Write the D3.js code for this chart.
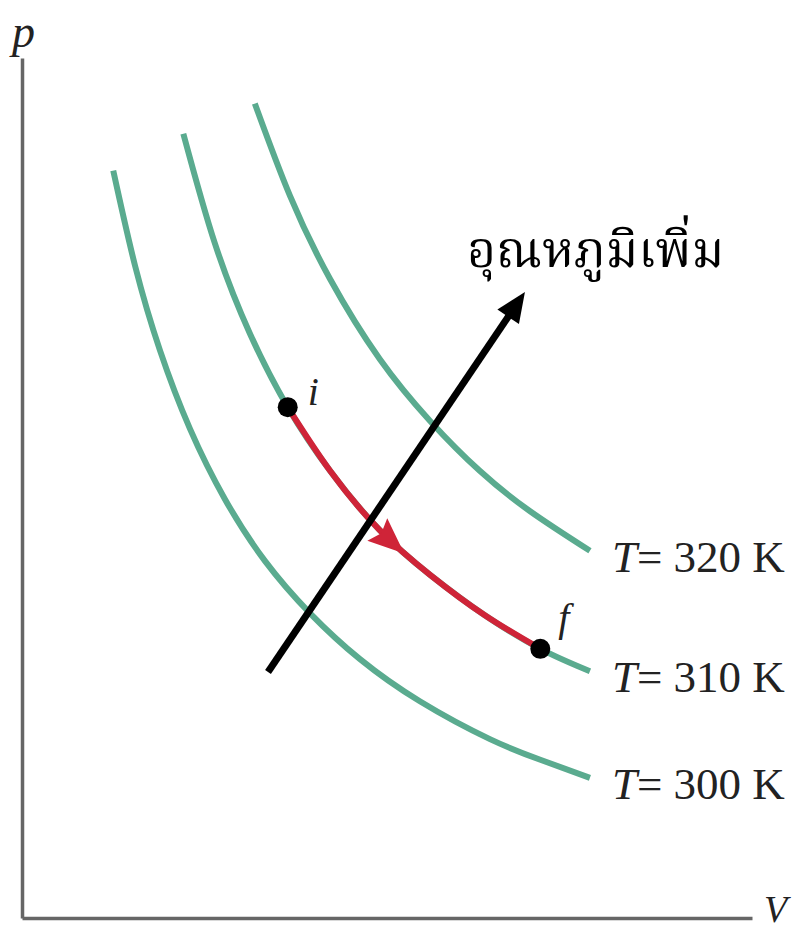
<!DOCTYPE html>
<html>
<head>
<meta charset="utf-8">
<script src="https://cdn.jsdelivr.net/npm/d3@7"></script>
<style>
  html, body { margin: 0; padding: 0; background: #fff; }
  svg { display: block; }
</style>
</head>
<body>
<svg id="chart" width="792" height="931"></svg>
<script>
// Isotherms on a p–V diagram (schematic units)
const temps = [300, 310, 320];
const isoV = [
  [1.25, 1.55, 1.89, 2.30, 2.78, 3.33, 3.95, 4.63, 5.45, 6.41, 7.10, 7.78],
  [2.21, 2.64, 3.12, 3.64, 4.22, 4.90, 5.59, 6.34, 7.10, 7.78],
  [3.19, 3.67, 4.22, 4.90, 5.59, 6.27, 6.96, 7.78]
];
const isoP = [
  [8.69, 7.58, 6.60, 5.69, 4.87, 4.15, 3.54, 3.01, 2.52, 2.08, 1.84, 1.63],
  [9.12, 7.85, 6.80, 5.94, 5.20, 4.51, 3.99, 3.52, 3.13, 2.87],
  [9.47, 8.40, 7.43, 6.50, 5.78, 5.20, 4.73, 4.27]
];
// Process i -> f runs along the 310 K isotherm (index range on that curve)
const processCurve = 1;
const processFrom = 3, processTo = 8;
const stateLabels = ["i", "f"];
// "Temperature increases" direction arrow, tail -> tip
const arrowV = [3.37, 6.89];
const arrowP = [2.86, 7.28];
const arrowText = "อุณหภูมิเพิ่ม";
const axisLabels = ["p", "V"];

const svg = d3.select("#chart");
const x = d3.scaleLinear().domain([0, 10]).range([22, 752]);
const y = d3.scaleLinear().domain([0, 10]).range([918, 58]);

const green = "#5aab8f", red = "#cf2438", axisGray = "#666";
const serif = "'Liberation Serif', 'DejaVu Serif', serif";

// axes: plain lines, no ticks
svg.append("g").attr("transform", `translate(0,${y(0)})`)
  .call(d3.axisBottom(x).tickValues([]).tickSizeOuter(0))
  .call(g => g.select(".domain").attr("stroke", axisGray).attr("stroke-width", 3.5));
svg.append("g").attr("transform", `translate(${x(0)},0)`)
  .call(d3.axisLeft(y).tickValues([]).tickSizeOuter(0))
  .call(g => g.select(".domain").attr("stroke", axisGray).attr("stroke-width", 3.5));

svg.append("text").attr("x", 12).attr("y", 47)
  .attr("font-family", serif).attr("font-style", "italic").attr("font-size", 46)
  .attr("fill", "#222").text(axisLabels[0]);
svg.append("text").attr("x", 764).attr("y", 922)
  .attr("font-family", serif).attr("font-style", "italic").attr("font-size", 38)
  .attr("fill", "#222").text(axisLabels[1]);

const line = d3.line().x(d => x(d[0])).y(d => y(d[1])).curve(d3.curveNatural);

const curves = temps.map((t, k) => isoV[k].map((v, j) => [v, isoP[k][j]]));

// isotherms
svg.append("g").selectAll("path").data(curves).join("path")
  .attr("d", line).attr("fill", "none")
  .attr("stroke", green).attr("stroke-width", 6).attr("stroke-linecap", "butt");

// isotherm labels
curves.forEach((c, k) => {
  const last = c[c.length - 1];
  const t = svg.append("text")
    .attr("x", x(last[0]) + 22).attr("y", y(last[1]) + 21)
    .attr("font-family", serif).attr("font-size", 45).attr("fill", "#222");
  t.append("tspan").attr("font-style", "italic").text("T");
  t.append("tspan").text(`= ${temps[k]} K`);
});

// process path i -> f
const proc = curves[processCurve].slice(processFrom, processTo + 1);
const procPath = svg.append("path").attr("d", line(proc)).attr("fill", "none")
  .attr("stroke", red).attr("stroke-width", 6);

// direction arrowhead on the process path
{
  const node = procPath.node();
  const L = node.getTotalLength();
  const tip = node.getPointAtLength(L * 0.53);
  const back = node.getPointAtLength(L * 0.53 - 4);
  const ang = Math.atan2(tip.y - back.y, tip.x - back.x);
  const len = 36, hw = 15;
  const bx = tip.x - len * Math.cos(ang), by = tip.y - len * Math.sin(ang);
  const px = -Math.sin(ang) * hw, py = Math.cos(ang) * hw;
  svg.append("path")
    .attr("d", `M${tip.x},${tip.y}L${bx + px},${by + py}L${bx + 0.15 * len * Math.cos(ang)},${by + 0.15 * len * Math.sin(ang)}L${bx - px},${by - py}Z`)
    .attr("fill", red);
}

// state points
const states = [proc[0], proc[proc.length - 1]];
svg.append("g").selectAll("circle").data(states).join("circle")
  .attr("cx", d => x(d[0])).attr("cy", d => y(d[1])).attr("r", 10).attr("fill", "#000");
svg.append("text").attr("x", x(states[0][0]) + 20).attr("y", y(states[0][1]) - 2)
  .attr("font-family", serif).attr("font-style", "italic").attr("font-size", 40)
  .attr("fill", "#222").text(stateLabels[0]);
svg.append("text").attr("x", x(states[1][0]) + 18).attr("y", y(states[1][1]) - 18)
  .attr("font-family", serif).attr("font-style", "italic").attr("font-size", 40)
  .attr("fill", "#222").text(stateLabels[1]);

// temperature-increase arrow
{
  const x0 = x(arrowV[0]), y0 = y(arrowP[0]), x1 = x(arrowV[1]), y1 = y(arrowP[1]);
  const ang = Math.atan2(y1 - y0, x1 - x0);
  const len = 30, hw = 13;
  const bx = x1 - len * Math.cos(ang), by = y1 - len * Math.sin(ang);
  svg.append("line").attr("x1", x0).attr("y1", y0).attr("x2", bx + 2 * Math.cos(ang)).attr("y2", by + 2 * Math.sin(ang))
    .attr("stroke", "#000").attr("stroke-width", 7);
  const px = -Math.sin(ang) * hw, py = Math.cos(ang) * hw;
  svg.append("path").attr("d", `M${x1},${y1}L${bx + px},${by + py}L${bx - px},${by - py}Z`).attr("fill", "#000");
  svg.append("text").attr("x", x1 - 58).attr("y", y1 - 25)
    .attr("font-family", "'Noto Serif Thai', 'Noto Sans Thai', 'Loma', 'Garuda', serif")
    .attr("font-size", 50).attr("fill", "#000").text(arrowText);
}
</script>
</body>
</html>
